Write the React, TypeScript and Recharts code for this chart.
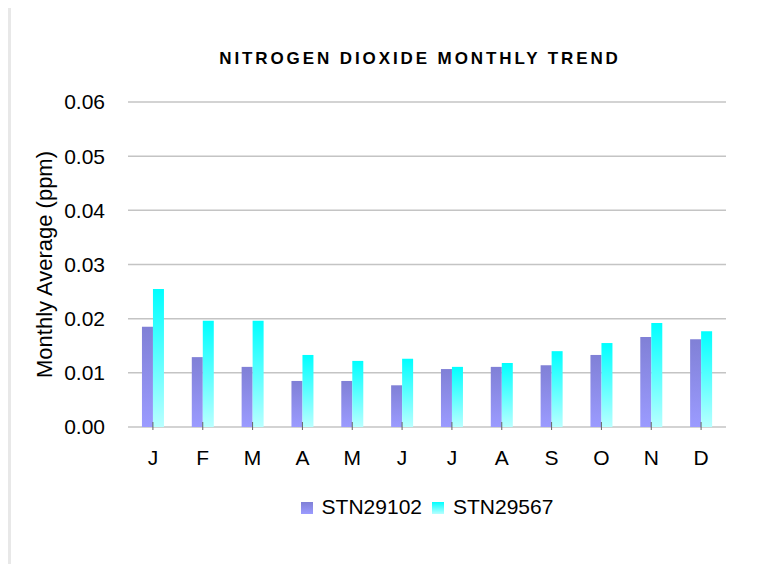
import React from 'react';
import { BarChart, Bar, XAxis, YAxis, CartesianGrid, Legend } from 'recharts';

const months = ['J', 'F', 'M', 'A', 'M', 'J', 'J', 'A', 'S', 'O', 'N', 'D'];
const stn29102 = [0.0185, 0.0129, 0.0111, 0.0085, 0.0085, 0.0077, 0.0107, 0.0111, 0.0114, 0.0133, 0.0166, 0.0162];
const stn29567 = [0.0255, 0.0196, 0.0196, 0.0133, 0.0122, 0.0126, 0.0111, 0.0118, 0.014, 0.0155, 0.0192, 0.0177];
const yTicks = [0, 0.01, 0.02, 0.03, 0.04, 0.05, 0.06];
const edgeTicks = [0, 1, 2, 3, 4, 5, 6, 7, 8, 9, 10, 11, 12];

const data = months.map((m, i) => ({ month: m, STN29102: stn29102[i], STN29567: stn29567[i] }));

const FONT = '"Liberation Sans", Arial, sans-serif';

const MonthTick = (props: any) => {
  const { x, y, payload } = props;
  return (
    <g>
      <line x1={x} x2={x} y1={y - 5} y2={y + 3} stroke="#666" strokeWidth={1} />
      <text x={x} y={y + 38} textAnchor="middle" fontSize={21} fontFamily={FONT} fill="#000">
        {payload.value}
      </text>
    </g>
  );
};

const YLabel = (props: any) => {
  const { viewBox } = props;
  const cx = viewBox.x + 44;
  const cy = viewBox.y + viewBox.height / 2;
  return (
    <text x={cx} y={cy} transform={`rotate(-90, ${cx}, ${cy})`} textAnchor="middle" dominantBaseline="central" fontSize={22} fontFamily={FONT} fill="#000">
      Monthly Average (ppm)
    </text>
  );
};

export default function App() {
  return (
    <div style={{ position: 'relative', width: 760, height: 572, margin: -8, background: '#fff', overflow: 'hidden' }}>
      <div style={{ position: 'absolute', left: 0, top: 0, width: 760, height: 3, background: '#f0f0f0' }} />
      <div style={{ position: 'absolute', left: 11, top: 0, width: 291, height: 3, background: '#cdeaf8' }} />
      <div style={{ position: 'absolute', left: 0, top: 3, width: 760, height: 2, background: '#e6e6e6' }} />
      <div style={{ position: 'absolute', left: 8, top: 0, width: 3, height: 572, background: '#e8e8e8' }} />
      <div style={{ position: 'absolute', left: 110, width: 620, top: 49, textAlign: 'center', fontFamily: FONT, fontWeight: 'bold', fontSize: 17, letterSpacing: 2.9, color: '#000', whiteSpace: 'nowrap' }}>
        NITROGEN DIOXIDE MONTHLY TREND
      </div>
      <BarChart
        width={760}
        height={572}
        data={data}
        margin={{ top: 102, right: 34, left: 0, bottom: 53 }}
        barCategoryGap="28%"
        barGap={0}
      >
        <defs>
          <linearGradient id="g1" x1="0" y1="0" x2="0" y2="1">
            <stop offset="0%" stopColor="#8080d6" />
            <stop offset="100%" stopColor="#9b9bff" />
          </linearGradient>
          <linearGradient id="g2" x1="0" y1="0" x2="0" y2="1">
            <stop offset="0%" stopColor="#00ffff" />
            <stop offset="100%" stopColor="#b8ffff" />
          </linearGradient>
        </defs>
        <CartesianGrid vertical={false} stroke="#c4c4c4" strokeWidth={1.5} xAxisId="cat" />
        <XAxis
          xAxisId="edge"
          type="number"
          domain={[0, 12]}
          ticks={edgeTicks}
          allowDataOverflow
          tick={false}
          tickSize={6}
          tickLine={{ stroke: '#000' }}
          axisLine={{ stroke: '#000', strokeWidth: 1.5 }}
          height={0}
        />
        <XAxis
          xAxisId="cat"
          dataKey="month"
          axisLine={false}
          tickLine={false}
          tickSize={0}
          tickMargin={0}
          tick={<MonthTick />}
          interval={0}
          height={68}
        />
        <YAxis
          width={128}
          domain={[0, 0.06]}
          ticks={yTicks}
          tickFormatter={(v: number) => v.toFixed(2)}
          axisLine={false}
          tickLine={false}
          tickMargin={17}
          tick={{ fontSize: 21, fontFamily: FONT, fill: '#000' }}
          label={<YLabel />}
        />
        <Legend
          verticalAlign="bottom"
          align="center"
          iconType="square"
          iconSize={12}
          wrapperStyle={{ fontSize: 21, fontFamily: FONT, color: '#000', paddingLeft: 138, paddingRight: 0, boxSizing: 'border-box' }}
          formatter={(v: string) => <span style={{ color: '#000', marginLeft: 5 }}>{v}</span>}
        />
        <Bar xAxisId="cat" dataKey="STN29102" fill="url(#g1)" isAnimationActive={false} />
        <Bar xAxisId="cat" dataKey="STN29567" fill="url(#g2)" isAnimationActive={false} />
      </BarChart>
    </div>
  );
}
